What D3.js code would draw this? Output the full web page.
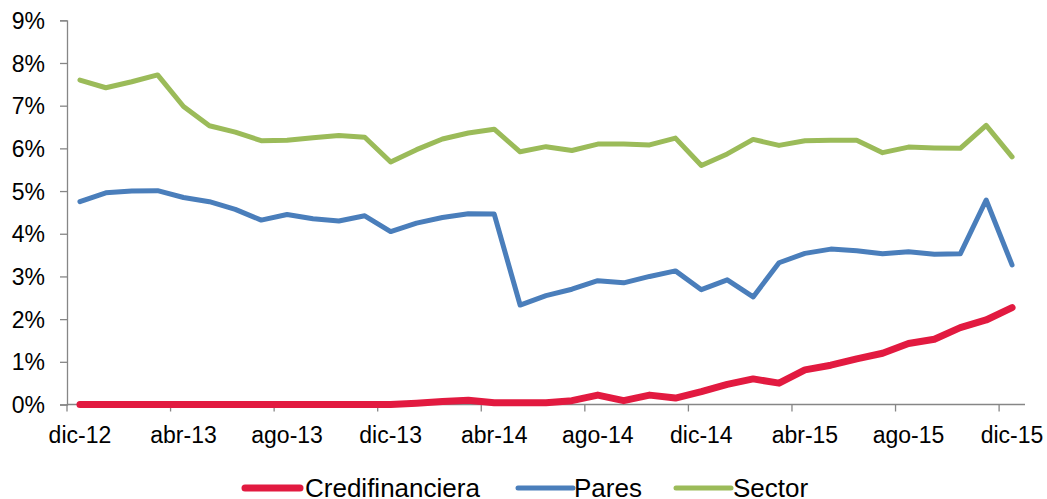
<!DOCTYPE html>
<html>
<head>
<meta charset="utf-8">
<script src="https://cdn.jsdelivr.net/npm/d3@7"></script>
<style>
  body { margin: 0; background: #fff; }
  svg { display: block; }
  text { font-family: "Liberation Sans", Arial, sans-serif; fill: #000; }
</style>
</head>
<body>
<div id="chart"></div>
<script>
// months, dic-12 .. dic-15
const monthNames = ["ene", "feb", "mar", "abr", "may", "jun", "jul", "ago", "sep", "oct", "nov", "dic"];
const months = ["dic-12"];
for (let yy = 13; yy <= 15; yy++) {
    monthNames.forEach(m => months.push(m + "-" + yy));
}

const credifinanciera = [0, 0, 0, 0, 0, 0, 0, 0, 0, 0, 0, 0, 0, 0.03, 0.07, 0.1, 0.04, 0.04, 0.04, 0.09, 0.22, 0.09, 0.22, 0.15,
    0.3, 0.47, 0.6, 0.5, 0.81, 0.92, 1.07, 1.2, 1.43, 1.53, 1.8, 1.98, 2.27];
const pares = [4.75, 4.96, 5.0, 5.01, 4.85, 4.75, 4.57, 4.32, 4.45, 4.35, 4.3, 4.42, 4.05, 4.25, 4.38, 4.47, 4.46, 2.33, 2.55, 2.7, 2.9, 2.85, 3.0, 3.13,
    2.69, 2.92, 2.52, 3.32, 3.54, 3.64, 3.6, 3.53, 3.58, 3.52, 3.53, 4.79, 3.27];
const sector = [7.6, 7.42, 7.56, 7.72, 6.98, 6.53, 6.38, 6.18, 6.19, 6.25, 6.3, 6.26, 5.68, 5.97, 6.22, 6.36, 6.45, 5.92, 6.04, 5.95, 6.1, 6.1, 6.08, 6.24,
    5.6, 5.87, 6.21, 6.07, 6.18, 6.19, 6.19, 5.9, 6.03, 6.01, 6.0, 6.54, 5.8];
const yTicks = [0, 1, 2, 3, 4, 5, 6, 7, 8, 9];

const series = [
    { name: "Credifinanciera", values: credifinanciera, color: "#E21A40", width: 7 },
    { name: "Pares", values: pares, color: "#4A7EBB", width: 5 },
    { name: "Sector", values: sector, color: "#9BBB59", width: 5 }
];

const W = 1047, H = 499;
const plotLeft = 67, plotRight = 1025, plotTop = 20.3, plotBottom = 404.5;

const svg = d3.select("#chart").append("svg")
    .attr("width", W)
    .attr("height", H);

const x = d3.scaleBand()
    .domain(months)
    .range([plotLeft, plotRight])
    .padding(0);

const y = d3.scaleLinear()
    .domain([0, 9])
    .range([plotBottom, plotTop]);

const axisColor = "#868686";

// y axis
const yAxis = svg.append("g")
    .attr("transform", "translate(" + plotLeft + ",0)")
    .call(d3.axisLeft(y).tickValues(yTicks).tickSize(7).tickPadding(15).tickFormat(d => d + "%"));
yAxis.select(".domain").attr("stroke", axisColor).attr("stroke-width", 1.3);
yAxis.selectAll(".tick line").attr("stroke", axisColor).attr("stroke-width", 1.3);
yAxis.selectAll(".tick text")
    .style("font-size", "23px")
    .attr("dy", "0.35em");

// x axis: ticks between categories, labels centered on category
const xg = svg.append("g");
xg.append("line")
    .attr("x1", plotLeft).attr("x2", plotRight)
    .attr("y1", plotBottom).attr("y2", plotBottom)
    .attr("stroke", axisColor).attr("stroke-width", 1.3);

const labelled = months.filter((m, i) => i % 4 === 0);
xg.selectAll(".xtick")
    .data(labelled)
    .enter().append("line")
    .attr("class", "xtick")
    .attr("x1", d => x(d)).attr("x2", d => x(d))
    .attr("y1", plotBottom).attr("y2", plotBottom + 7)
    .attr("stroke", axisColor).attr("stroke-width", 1.3);

xg.selectAll(".xlabel")
    .data(labelled)
    .enter().append("text")
    .attr("class", "xlabel")
    .attr("x", d => x(d) + x.bandwidth() / 2)
    .attr("y", plotBottom + 30)
    .attr("dy", "0.35em")
    .attr("text-anchor", "middle")
    .style("font-size", "23px")
    .text(d => d);

// lines
const line = d3.line()
    .x((d, i) => x(months[i]) + x.bandwidth() / 2)
    .y(d => y(d))
    .curve(d3.curveLinear);

// draw sector first, then pares, then red on top
series.slice().reverse().forEach(s => {
    svg.append("path")
        .datum(s.values)
        .attr("fill", "none")
        .attr("stroke", s.color)
        .attr("stroke-width", s.width)
        .attr("stroke-linejoin", "round")
        .attr("stroke-linecap", "round")
        .attr("d", line);
});

// legend
const legendY = 488;
const legendItems = [
    { lx: 245, tx: 305 },
    { lx: 518, tx: 574 },
    { lx: 676, tx: 733 }
];
const legend = svg.append("g");
series.forEach((s, i) => {
    const pos = legendItems[i];
    legend.append("line")
        .attr("x1", pos.lx).attr("x2", pos.lx + 55)
        .attr("y1", legendY).attr("y2", legendY)
        .attr("stroke", s.color)
        .attr("stroke-width", s.width)
        .attr("stroke-linecap", "round");
    legend.append("text")
        .attr("x", pos.tx)
        .attr("y", legendY)
        .attr("dy", "0.35em")
        .style("font-size", "26px")
        .text(s.name);
});
</script>
</body>
</html>
